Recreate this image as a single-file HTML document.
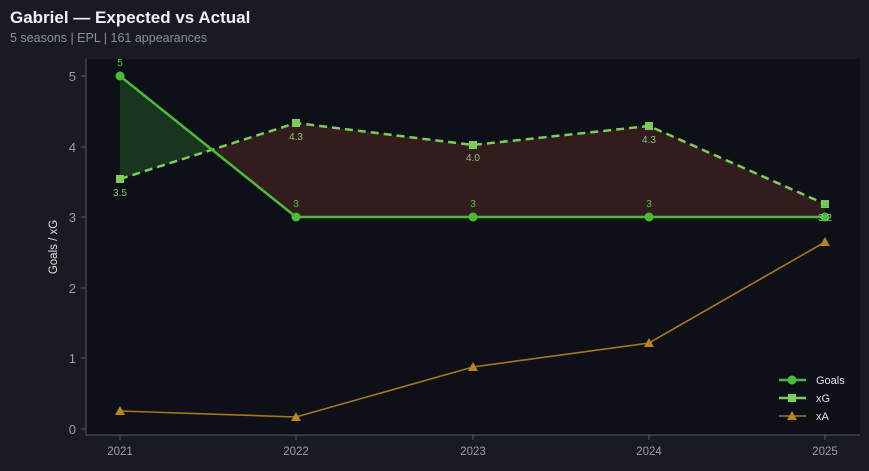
<!DOCTYPE html>
<html><head><style>
body{margin:0;background:#181b22;width:869px;height:466px;overflow:hidden;font-family:"Liberation Sans",sans-serif}
</style></head><body>
<svg width="869" height="466" xmlns="http://www.w3.org/2000/svg" font-family="Liberation Sans, sans-serif">
<rect width="869" height="466" fill="#181b22"/>
<text x="10" y="23" font-size="17" font-weight="bold" fill="#eef0f4">Gabriel — Expected vs Actual</text>
<text x="10" y="42" font-size="12.5" fill="#8a8f99">5 seasons | EPL | 161 appearances</text>
<rect x="86" y="59" width="774" height="376" fill="#0d1016"/>
<line x1="86" y1="59" x2="86" y2="435" stroke="#555a63"/>
<line x1="86" y1="435" x2="860" y2="435" stroke="#555a63"/>
<g font-size="13" fill="#9a9ea6" text-anchor="end">
<text x="76" y="434">0</text><text x="76" y="363">1</text><text x="76" y="293">2</text><text x="76" y="222">3</text><text x="76" y="152">4</text><text x="76" y="81">5</text>
</g>
<g stroke="#555a63"><line x1="81" x2="86" y1="429" y2="429"/><line x1="81" x2="86" y1="358" y2="358"/><line x1="81" x2="86" y1="288" y2="288"/><line x1="81" x2="86" y1="217" y2="217"/><line x1="81" x2="86" y1="147" y2="147"/><line x1="81" x2="86" y1="76" y2="76"/>
<line y1="435" y2="440" x1="120" x2="120"/><line y1="435" y2="440" x1="296" x2="296"/><line y1="435" y2="440" x1="473" x2="473"/><line y1="435" y2="440" x1="649" x2="649"/><line y1="435" y2="440" x1="825" x2="825"/></g>
<g font-size="11.5" fill="#9a9ea6" text-anchor="middle">
<text x="120" y="455">2021</text><text x="296" y="455">2022</text><text x="473" y="455">2023</text><text x="649" y="455">2024</text><text x="825" y="455">2025</text>
</g>
<text transform="translate(57,247) rotate(-90)" font-size="11.5" fill="#e0e2e6" text-anchor="middle">Goals / xG</text>
<polygon points="120,76 212,150 120,179" fill="#1c3a20" opacity="0.9"/>
<polygon points="212,150 296,123 473,145 649,126 825,204 825,217 649,217 473,217 296,217" fill="#3a1e20" opacity="0.85"/>
<polyline points="120,411 296,417 473,367 649,343 825,242" fill="none" stroke="#a8761f" stroke-width="1.6"/>
<g fill="#b8841f"><polygon points="120,406 125,415 115,415"/><polygon points="296,412 301,421 291,421"/><polygon points="473,362 478,371 468,371"/><polygon points="649,338 654,347 644,347"/><polygon points="825,237 830,246 820,246"/></g>
<polyline points="120,179 296,123 473,145 649,126 825,204" fill="none" stroke="#7ccc5c" stroke-width="2.5" stroke-dasharray="8,5"/>
<g fill="#7ccc5c"><rect x="116" y="175" width="8" height="8"/><rect x="292" y="119" width="8" height="8"/><rect x="469" y="141" width="8" height="8"/><rect x="645" y="122" width="8" height="8"/><rect x="821" y="200" width="8" height="8"/></g>
<polyline points="120,76 296,217 473,217 649,217 825,217" fill="none" stroke="#4cbb3c" stroke-width="2.5"/>
<g fill="#4cbb3c"><circle cx="120" cy="76" r="4.5"/><circle cx="296" cy="217" r="4.5"/><circle cx="473" cy="217" r="4.5"/><circle cx="649" cy="217" r="4.5"/><circle cx="825" cy="217" r="4.5"/></g>
<g font-size="10" fill="#5cc04a" text-anchor="middle">
<text x="120" y="66">5</text><text x="296" y="207">3</text><text x="473" y="207">3</text><text x="649" y="207">3</text><text x="825" y="207">3</text>
</g>
<g font-size="10" fill="#88c870" text-anchor="middle">
<text x="120" y="196">3.5</text><text x="296" y="140">4.3</text><text x="473" y="161">4.0</text><text x="649" y="143">4.3</text><text x="825" y="221">3.2</text>
</g>
<line x1="779" y1="380" x2="806" y2="380" stroke="#4cbb3c" stroke-width="2.5"/><circle cx="792" cy="380" r="4.5" fill="#4cbb3c"/>
<line x1="779" y1="398" x2="806" y2="398" stroke="#7ccc5c" stroke-width="2.5"/><rect x="788" y="394" width="8" height="8" fill="#7ccc5c"/>
<line x1="779" y1="416" x2="806" y2="416" stroke="#a8761f" stroke-width="1.6"/><polygon points="792,411 797,420 787,420" fill="#b8841f"/>
<g font-size="11" fill="#e0e2e6"><text x="816" y="384">Goals</text><text x="816" y="402">xG</text><text x="816" y="420">xA</text></g>
</svg>
</body></html>
